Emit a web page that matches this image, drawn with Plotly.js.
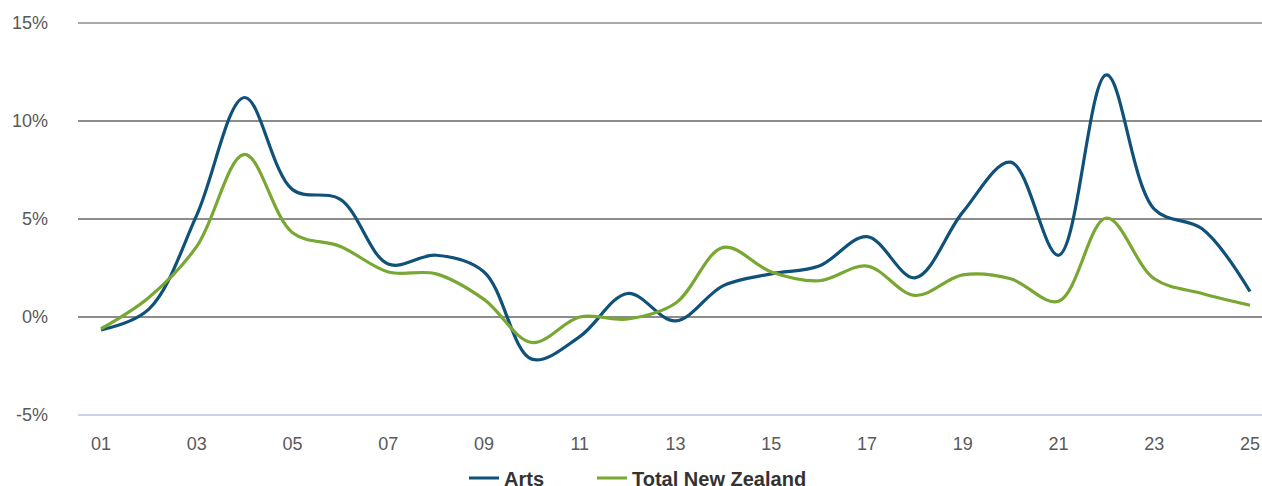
<!DOCTYPE html>
<html>
<head>
<meta charset="utf-8">
<script src="https://cdn.plot.ly/plotly-3.0.1.min.js"></script>
<style>html,body{margin:0;padding:0;background:#fff;}#chart{width:1262px;height:486px;}</style>
</head>
<body>
<div id="chart"></div>
<script>
const years = [1,2,3,4,5,6,7,8,9,10,11,12,13,14,15,16,17,18,19,20,21,22,23,24,25];
const tickVals = [1,3,5,7,9,11,13,15,17,19,21,23,25];
const tickText = ["01","03","05","07","09","11","13","15","17","19","21","23","25"];
const yTickVals = [-5,0,5,10,15];
const yTickText = ["-5%","0%","5%","10%","15%"];
const arts = [-0.66,0.4,5.2,11.2,6.5,6.0,2.7,3.15,2.3,-2.15,-1.0,1.2,-0.2,1.6,2.2,2.6,4.1,2.0,5.35,7.9,3.15,12.35,5.5,4.5,1.3];
const totalNZ = [-0.6,1.0,3.6,8.3,4.3,3.6,2.3,2.2,0.9,-1.3,0.0,-0.1,0.7,3.55,2.3,1.85,2.6,1.1,2.15,1.95,0.8,5.05,1.95,1.2,0.6];

const legendFont = {family: "Liberation Sans, Arial, sans-serif", size: 20, color: "#333", weight: "bold"};

const traces = [
  {x: years, y: arts, name: "Arts", type: "scatter", mode: "lines", legend: "legend",
   line: {color: "#0f5179", width: 3.2, shape: "spline", smoothing: 1}},
  {x: years, y: totalNZ, name: "Total New Zealand", type: "scatter", mode: "lines", legend: "legend2",
   line: {color: "#79a733", width: 3.2, shape: "spline", smoothing: 1}}
];

const layout = {
  width: 1262, height: 486,
  margin: {l: 78, r: 0, t: 23, b: 71, autoexpand: false},
  paper_bgcolor: "#fff", plot_bgcolor: "#fff",
  font: {family: "Liberation Sans, Arial, sans-serif", size: 18, color: "#595959"},
  showlegend: true,
  legend: {orientation: "h", xref: "container", yref: "container",
           x: 464/1262, xanchor: "left", y: 0.0165, yanchor: "middle",
           font: legendFont, itemwidth: 30},
  legend2: {orientation: "h", xref: "container", yref: "container",
           x: 592/1262, xanchor: "left", y: 0.0165, yanchor: "middle",
           font: legendFont, itemwidth: 30},
  xaxis: {range: [0.5196, 25.25], tickvals: tickVals, ticktext: tickText,
          showgrid: false, zeroline: false, showline: false, ticks: "",
          ticklabelstandoff: 16, tickfont: {size: 18, color: "#595959"}},
  yaxis: {range: [-5, 15], tickvals: yTickVals, ticktext: yTickText,
          showgrid: true, gridcolor: "#8c8c8c", gridwidth: 1.5, zeroline: false,
          showline: false, ticks: "", ticklabelstandoff: 29,
          tickfont: {size: 18, color: "#595959"}},
  shapes: [
    {type: "line", xref: "paper", yref: "paper", x0: 0, x1: 1, y0: 0, y1: 0,
     line: {color: "#c9d4ec", width: 2}, layer: "above"},
    {type: "line", xref: "paper", yref: "paper", x0: 0, x1: 1, y0: 1, y1: 1,
     line: {color: "#8c8c8c", width: 1.5}, layer: "above"}
  ]
};

Plotly.newPlot("chart", traces, layout, {staticPlot: true, displayModeBar: false});
</script>
</body>
</html>
